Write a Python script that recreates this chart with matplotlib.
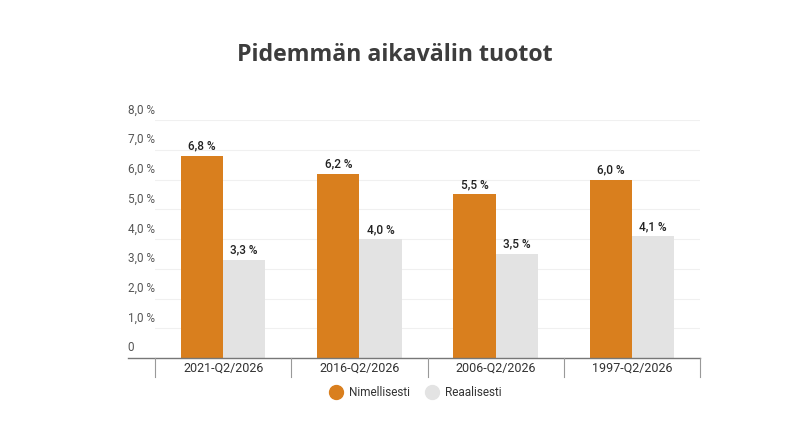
import matplotlib.pyplot as plt
from matplotlib.lines import Line2D
import numpy as np

plt.rcParams['font.family'] = ['Roboto', 'DejaVu Sans']

periods = ["2021-Q2/2026", "2016-Q2/2026", "2006-Q2/2026", "1997-Q2/2026"]
nominal = [6.8, 6.2, 5.5, 6.0]
real = [3.3, 4.0, 3.5, 4.1]
y_ticks = [0, 1, 2, 3, 4, 5, 6, 7, 8]

orange = "#d97f1e"
grey = "#e3e3e3"


def fi(v):
    return f"{v:.1f}".replace(".", ",") + " %"


fig = plt.figure(figsize=(7.9, 4.45), dpi=100)
ax = fig.add_axes([155 / 790, 87 / 445, 545 / 790, 238 / 445])

x = np.arange(len(periods))
w = 0.31
b1 = ax.bar(x - w / 2, nominal, w, color=orange, zorder=3)
b2 = ax.bar(x + w / 2, real, w, color=grey, zorder=3)

for bars, vals in [(b1, nominal), (b2, real)]:
    for r, v in zip(bars, vals):
        ax.text(r.get_x() + r.get_width() / 2, v + 0.1, fi(v), ha="center", va="bottom",
                fontsize=8.5, fontweight="medium", color="#222222")

ax.set_xlim(-0.5, 3.5)
ax.set_ylim(0, 8)
for t in y_ticks:
    ax.axhline(t, color="#f0f0f0", lw=0.8, zorder=1)
    lab = "0" if t == 0 else fi(t)
    ax.text(-0.7, t + 0.12, lab, ha="left", va="bottom", fontsize=8.5, color="#555555",
            transform=ax.transData, clip_on=False)

# baseline and category separators
ax.plot([-0.7, 3.5], [0, 0], color="#777777", lw=1, clip_on=False, zorder=4)
for s in np.arange(-0.5, 4.0, 1.0):
    ax.plot([s, s], [0, -0.64], color="#999999", lw=0.8, clip_on=False, zorder=4)
for xi, p in zip(x, periods):
    ax.text(xi, -0.33, p, ha="center", va="center", fontsize=9, color="#333333")

for sp in ax.spines.values():
    sp.set_visible(False)
ax.set_xticks([])
ax.set_yticks([])

fig.text(0.5, 1 - 55 / 445, "Pidemmän aikavälin tuotot", ha="center", va="center",
         fontsize=16.7, fontweight="bold", color="#3d3d3d", family=["Open Sans", "DejaVu Sans"])

handles = [Line2D([], [], marker="o", ls="", color=orange, markersize=10),
           Line2D([], [], marker="o", ls="", color=grey, markersize=10)]
fig.legend(handles, ["Nimellisesti", "Reaalisesti"], loc="center",
           bbox_to_anchor=(413 / 790, 1 - 393 / 445), ncol=2, frameon=False, fontsize=8.5,
           handletextpad=0.05, columnspacing=0.9, labelcolor="#333333")

fig.savefig("out.png", dpi=100)
